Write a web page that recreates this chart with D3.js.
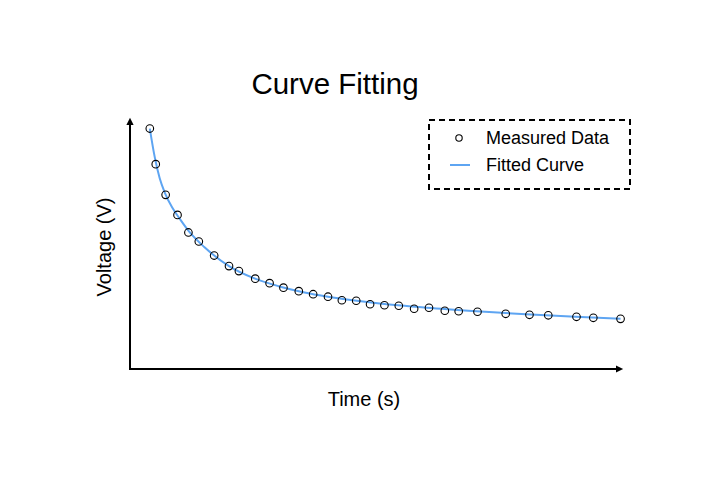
<!DOCTYPE html>
<html lang="en">
<head>
    <meta charset="UTF-8">
    <title>Curve Fitting</title>
    <script src="https://d3js.org/d3.v7.min.js"></script>
    <style>
        body { margin: 0; background: #fff; }
        text { font-family: "Liberation Sans", Arial, sans-serif; fill: #000; }
    </style>
</head>
<body>
    <svg id="chart" width="720" height="480"></svg>
    <script>
        const timeData = [0.40, 0.52, 0.72, 0.96, 1.18, 1.39, 1.70, 2.00, 2.20, 2.53, 2.82,
                          3.10, 3.41, 3.70, 4.00, 4.28, 4.57, 4.85, 5.14, 5.43, 5.74, 6.04,
                          6.36, 6.64, 7.02, 7.59, 8.07, 8.45, 9.02, 9.36, 9.91];
        const voltData = [4.79, 4.08, 3.47, 3.07, 2.72, 2.54, 2.26, 2.05, 1.95, 1.80, 1.71,
                          1.62, 1.55, 1.49, 1.44, 1.37, 1.36, 1.29, 1.27, 1.26, 1.20, 1.22,
                          1.16, 1.15, 1.14, 1.10, 1.08, 1.07, 1.04, 1.02, 1.00];

        // Fitted curve samples
        const fitTime = [0.40, 0.50, 0.60, 0.70, 0.85, 1.00, 1.20, 1.50, 2.00, 2.50, 3.00,
                         3.50, 4.00, 4.50, 5.00, 6.00, 7.00, 8.00, 9.00, 9.91];
        const fitVolt = [4.79, 4.22, 3.80, 3.52, 3.22, 3.00, 2.73, 2.43, 2.05, 1.81, 1.65,
                         1.53, 1.44, 1.37, 1.31, 1.22, 1.15, 1.09, 1.04, 1.00];

        const legendLabels = ['Measured Data', 'Fitted Curve'];

        const svg = d3.select('#chart');
        const margin = { left: 130, right: 95, top: 118, bottom: 111 };
        const width = +svg.attr('width');
        const height = +svg.attr('height');
        const lineColor = '#5ea5f2';

        const x = d3.scaleLinear().domain([0, 10]).range([margin.left, width - margin.right]);
        const y = d3.scaleLinear().domain([0, 5]).range([height - margin.bottom, margin.top]);

        // Arrowhead marker
        svg.append('defs').append('marker')
            .attr('id', 'arrow')
            .attr('viewBox', '0 0 10 10')
            .attr('refX', 0)
            .attr('refY', 5)
            .attr('markerWidth', 5)
            .attr('markerHeight', 3.6)
            .attr('markerUnits', 'strokeWidth')
            .attr('orient', 'auto')
            .append('path')
            .attr('d', 'M 0 0 L 10 5 L 0 10 Z')
            .attr('fill', '#000');

        // Axes (no ticks)
        const x0 = x(0), y0 = y(0);
        svg.append('line')
            .attr('x1', x0).attr('y1', y0)
            .attr('x2', x(10) - 9).attr('y2', y0)
            .attr('stroke', '#000').attr('stroke-width', 2)
            .attr('marker-end', 'url(#arrow)');
        svg.append('line')
            .attr('x1', x0).attr('y1', y0 + 1)
            .attr('x2', x0).attr('y2', y(5) + 7)
            .attr('stroke', '#000').attr('stroke-width', 2)
            .attr('marker-end', 'url(#arrow)');

        // Fitted curve
        const line = d3.line()
            .x((d, i) => x(fitTime[i]))
            .y(d => y(d))
            .curve(d3.curveMonotoneX);
        svg.append('path')
            .datum(fitVolt)
            .attr('d', line)
            .attr('fill', 'none')
            .attr('stroke', lineColor)
            .attr('stroke-width', 2);

        // Measured points
        svg.append('g').selectAll('circle')
            .data(voltData)
            .join('circle')
            .attr('cx', (d, i) => x(timeData[i]))
            .attr('cy', d => y(d))
            .attr('r', 3.8)
            .attr('fill', 'none')
            .attr('stroke', '#000')
            .attr('stroke-width', 1.1);

        // Title and labels
        svg.append('text')
            .attr('x', 335).attr('y', 94)
            .attr('text-anchor', 'middle')
            .attr('font-size', 29.5)
            .text('Curve Fitting');

        svg.append('text')
            .attr('x', 364).attr('y', 406)
            .attr('text-anchor', 'middle')
            .attr('font-size', 20)
            .text('Time (s)');

        svg.append('text')
            .attr('transform', 'translate(111,247) rotate(-90)')
            .attr('text-anchor', 'middle')
            .attr('font-size', 20)
            .text('Voltage (V)');

        // Legend
        const legend = svg.append('g').attr('transform', 'translate(429,120)');
        legend.append('rect')
            .attr('width', 201).attr('height', 69)
            .attr('fill', '#fff')
            .attr('stroke', '#000')
            .attr('stroke-width', 2)
            .attr('stroke-dasharray', '6,4');
        legend.append('circle')
            .attr('cx', 30).attr('cy', 18).attr('r', 3.2)
            .attr('fill', 'none').attr('stroke', '#000').attr('stroke-width', 1.1);
        legend.append('line')
            .attr('x1', 21).attr('x2', 41).attr('y1', 45).attr('y2', 45)
            .attr('stroke', lineColor).attr('stroke-width', 2);
        legend.selectAll('text.label')
            .data(legendLabels)
            .join('text')
            .attr('class', 'label')
            .attr('x', 57)
            .attr('y', (d, i) => 23.5 + i * 27)
            .attr('font-size', 18)
            .text(d => d);
    </script>
</body>
</html>
